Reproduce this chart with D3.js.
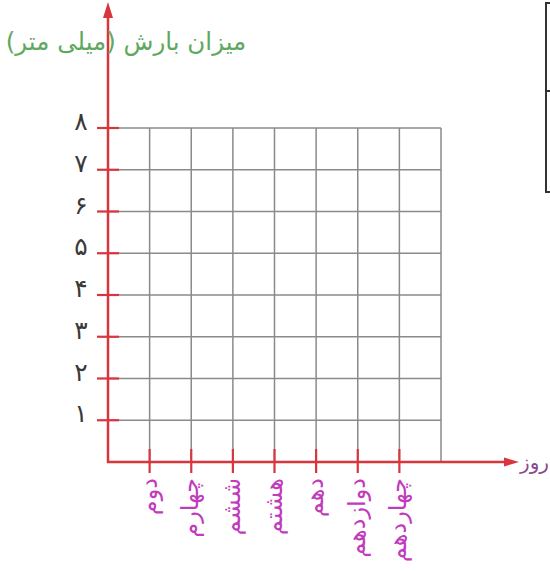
<!DOCTYPE html>
<html><head><meta charset="utf-8">
<script src="https://cdn.jsdelivr.net/npm/d3@7"></script>
<style>body{margin:0;background:#fff}svg{display:block}</style>
</head><body>
<svg id="c" width="550" height="572"></svg>
<script>
const days = ["دوم","چهارم","ششم","هشتم","دهم","دوازدهم","چهاردهم"];
const yTickValues = [1,2,3,4,5,6,7,8];
const yTickLabels = ["۱","۲","۳","۴","۵","۶","۷","۸"];
const yTitle = "میزان بارش (میلی متر)";
const xTitle = "روز";

const svg = d3.select("#c");
const x = d3.scaleLinear().domain([0,8]).range([108,441]);
const y = d3.scaleLinear().domain([0,8]).range([462,128]);
const red = "#d8353c", gray = "#8a8a8a";

// grid
const g = svg.append("g");
g.selectAll(".h").data(yTickValues).join("line")
  .attr("x1", x(0)).attr("x2", x(8)).attr("y1", d=>y(d)).attr("y2", d=>y(d))
  .attr("stroke", gray).attr("stroke-width", 1.5);
g.selectAll(".v").data(d3.range(1,9)).join("line")
  .attr("x1", d=>x(d)).attr("x2", d=>x(d)).attr("y1", y(8)).attr("y2", y(0))
  .attr("stroke", gray).attr("stroke-width", 1.5);

// axes
svg.append("line").attr("x1", x(0)).attr("x2", x(0)).attr("y1", y(0)+1).attr("y2", 14)
  .attr("stroke", red).attr("stroke-width", 2.5);
svg.append("path").attr("d", `M${x(0)},2 L${x(0)-5},18 L${x(0)+5},18 Z`).attr("fill", red);
svg.append("line").attr("x1", x(0)-1).attr("x2", 508).attr("y1", y(0)).attr("y2", y(0))
  .attr("stroke", red).attr("stroke-width", 2.5);
svg.append("path").attr("d", `M519,${y(0)} L504,${y(0)-4.5} L504,${y(0)+4.5} Z`).attr("fill", red);

// y ticks
svg.selectAll(".yt").data(yTickValues).join("line")
  .attr("x1", x(0)-11).attr("x2", x(0)+11).attr("y1", d=>y(d)).attr("y2", d=>y(d))
  .attr("stroke", red).attr("stroke-width", 2.2);
svg.selectAll(".yl").data(yTickValues).join("text")
  .attr("x", 81).attr("y", d=>y(d)-5)
  .attr("text-anchor","middle").attr("dominant-baseline","middle")
  .attr("font-family","DejaVu Sans").attr("font-size",25).attr("fill","#3a3a3a")
  .text((d,i)=>yTickLabels[i]);

// x ticks
svg.selectAll(".xt").data(days).join("line")
  .attr("x1", (d,i)=>x(i+1)).attr("x2", (d,i)=>x(i+1)).attr("y1", y(0)-13).attr("y2", y(0)+11)
  .attr("stroke", red).attr("stroke-width", 2.2);
svg.selectAll(".xl").data(days).join("text")
  .attr("transform", (d,i)=>`translate(${x(i+1)},478) rotate(-90)`)
  .attr("text-anchor","end").attr("dominant-baseline","middle")
  .attr("font-family","DejaVu Sans").attr("font-size",24).attr("fill","#c03cbc")
  .text(d=>d);

// titles
svg.append("text").attr("x", 126).attr("y", 50).attr("text-anchor","middle")
  .attr("font-family","DejaVu Sans").attr("font-size",24.5).attr("fill","#5fa860")
  .text(yTitle);
svg.append("text").attr("x", 549).attr("y", 469).attr("text-anchor","end")
  .attr("font-family","DejaVu Sans").attr("font-size",20).attr("fill","#8a4a8e")
  .text(xTitle);

// partial table at top-right
const tb = svg.append("g").attr("stroke","#333").attr("stroke-width",2).attr("fill","none");
tb.append("path").attr("d","M551,3 L546,3 L546,192 L551,192");
tb.append("line").attr("x1",546).attr("x2",551).attr("y1",91).attr("y2",91);
</script>
</body></html>
